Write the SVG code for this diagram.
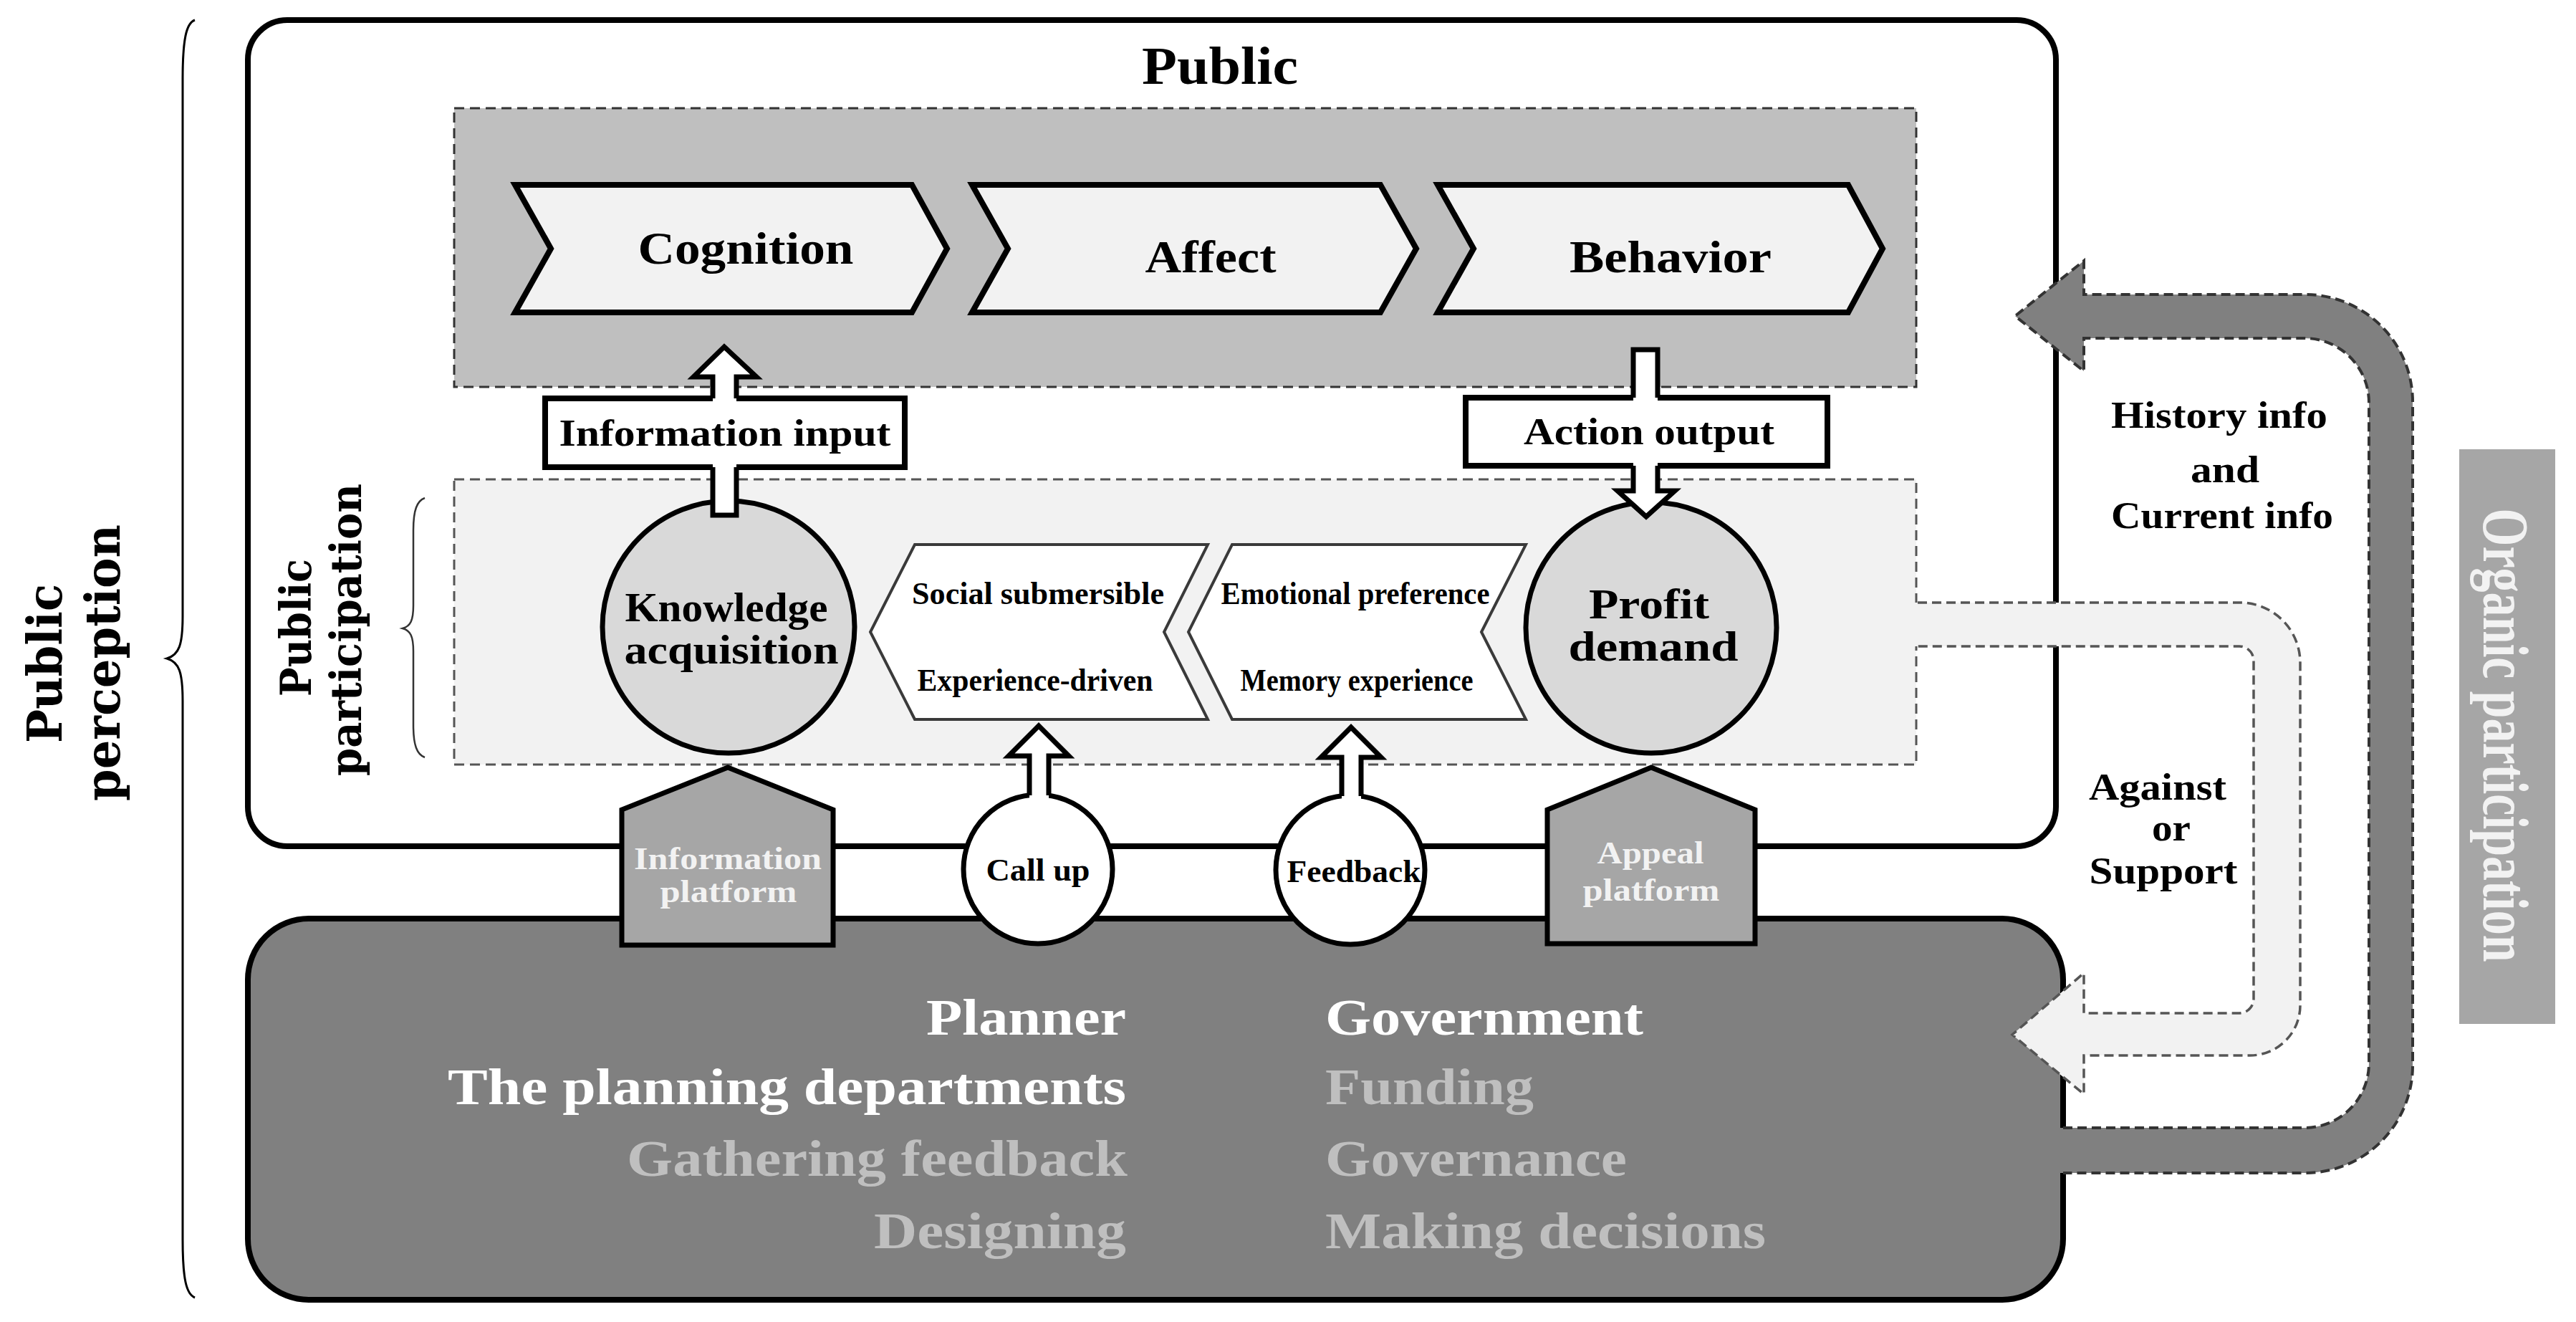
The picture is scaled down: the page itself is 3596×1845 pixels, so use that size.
<svg xmlns="http://www.w3.org/2000/svg" width="3596" height="1845" viewBox="0 0 3596 1845">
<defs>
<style>
.t{font-family:"Liberation Serif","DejaVu Serif",serif;font-weight:bold;fill:#000}
.r{font-family:"DejaVu Serif","Liberation Serif",serif;font-weight:bold;fill:#000}
.w{fill:#ffffff}
.g{fill:#bfbfbf}
.lt{fill:#f2f2f2}
.chev{fill:#f2f2f2;stroke:#000;stroke-width:8;stroke-linejoin:miter}
.hex{fill:#ffffff;stroke:#3a3a3a;stroke-width:4}
.circ{fill:#d9d9d9;stroke:#000;stroke-width:7}
.wcirc{fill:#ffffff;stroke:#000;stroke-width:7}
.plat{fill:#a6a6a6;stroke:#000;stroke-width:7}
.box{fill:#ffffff;stroke:#000;stroke-width:8}
.afill{fill:#ffffff;stroke:none}
.aline{fill:none;stroke:#000;stroke-width:7;stroke-linejoin:miter}
.brace{fill:none;stroke:#000;stroke-width:3}
</style>
</defs>
<rect x="0" y="0" width="3596" height="1845" fill="#ffffff"/>

<g id="brace-perception">
<path class="brace" d="M272,28 C260,32 255,55 255,110 L255,860 C255,900 250,914 233,919 C250,924 255,938 255,978 L255,1730 C255,1785 260,1806 272,1811"/>
<text class="r" font-size="68" textLength="222" lengthAdjust="spacingAndGlyphs" text-anchor="middle" transform="translate(86,926) rotate(-90)">Public</text>
<text class="r" font-size="68" textLength="386" lengthAdjust="spacingAndGlyphs" text-anchor="middle" transform="translate(167,925) rotate(-90)">perception</text>
</g>

<g id="public">
<rect x="346" y="28" width="2524" height="1153" rx="55" fill="#ffffff" stroke="#000" stroke-width="8"/>
<text class="t" x="1703" y="117" font-size="74" textLength="218" lengthAdjust="spacingAndGlyphs" text-anchor="middle">Public</text>
</g>

<g id="psychology">
<rect x="634" y="151" width="2041" height="389" fill="#bfbfbf" stroke="#333" stroke-width="3" stroke-dasharray="14 8"/>
</g>

<g id="cognition">
<polygon class="chev" points="719,258 1273,258 1322,347 1273,436 719,436 769,347"/>
<text class="t" x="1041" y="368" font-size="64" textLength="301" lengthAdjust="spacingAndGlyphs" text-anchor="middle">Cognition</text>
</g>
<g id="affect">
<polygon class="chev" points="1357,258 1927,258 1977,347 1927,436 1357,436 1407,347"/>
<text class="t" x="1690" y="380" font-size="64" textLength="183" lengthAdjust="spacingAndGlyphs" text-anchor="middle">Affect</text>
</g>
<g id="behavior">
<polygon class="chev" points="2007,258 2580,258 2628,347 2580,436 2007,436 2057,347"/>
<text class="t" x="2332" y="380" font-size="64" textLength="282" lengthAdjust="spacingAndGlyphs" text-anchor="middle">Behavior</text>
</g>

<g id="participation-area">
<rect x="634" y="669" width="2041" height="398" fill="#f2f2f2" stroke="#555" stroke-width="3" stroke-dasharray="14 8"/>
<path fill="none" stroke="#333" stroke-width="2.5" d="M593,695 C582,699 577,712 577,740 L577,845 C577,866 573,874 562,877 C573,880 577,888 577,909 L577,1012 C577,1040 582,1053 593,1057"/>
<text class="r" font-size="60" textLength="192" lengthAdjust="spacingAndGlyphs" text-anchor="middle" transform="translate(434,876) rotate(-90)">Public</text>
<text class="r" font-size="60" textLength="408" lengthAdjust="spacingAndGlyphs" text-anchor="middle" transform="translate(504,879) rotate(-90)">participation</text>
</g>

<g id="knowledge">
<circle class="circ" cx="1017" cy="875" r="176"/>
<text class="t" x="1014" y="867" font-size="56" textLength="283" lengthAdjust="spacingAndGlyphs" text-anchor="middle">Knowledge</text>
<text class="t" x="1021" y="926" font-size="56" textLength="299" lengthAdjust="spacingAndGlyphs" text-anchor="middle">acquisition</text>
</g>

<g id="social">
<polygon class="hex" points="1277,760 1686,760 1625,882 1686,1004 1277,1004 1215,882"/>
<text class="t" x="1449" y="843" font-size="44" textLength="352" lengthAdjust="spacingAndGlyphs" text-anchor="middle">Social submersible</text>
<text class="t" x="1445" y="964" font-size="44" textLength="329" lengthAdjust="spacingAndGlyphs" text-anchor="middle">Experience-driven</text>
</g>

<g id="emotional">
<polygon class="hex" points="1720,760 2130,760 2068,882 2130,1004 1720,1004 1659,882"/>
<text class="t" x="1892" y="843" font-size="44" textLength="375" lengthAdjust="spacingAndGlyphs" text-anchor="middle">Emotional preference</text>
<text class="t" x="1894" y="964" font-size="44" textLength="325" lengthAdjust="spacingAndGlyphs" text-anchor="middle">Memory experience</text>
</g>

<g id="profit">
<circle class="circ" cx="2305" cy="876" r="175"/>
<text class="t" x="2302" y="863" font-size="60" textLength="168" lengthAdjust="spacingAndGlyphs" text-anchor="middle">Profit</text>
<text class="t" x="2308" y="922" font-size="60" textLength="237" lengthAdjust="spacingAndGlyphs" text-anchor="middle">demand</text>
</g>

<g id="government-planner">
<rect x="346" y="1282" width="2534" height="532" rx="85" fill="#808080" stroke="#000" stroke-width="8"/>
<text class="t w" x="1572" y="1444" font-size="72" textLength="279" lengthAdjust="spacingAndGlyphs" text-anchor="end">Planner</text>
<text class="t w" x="1572" y="1541" font-size="72" textLength="947" lengthAdjust="spacingAndGlyphs" text-anchor="end">The planning departments</text>
<text class="t g" x="1574" y="1641" font-size="72" textLength="699" lengthAdjust="spacingAndGlyphs" text-anchor="end">Gathering feedback</text>
<text class="t g" x="1572" y="1742" font-size="72" textLength="352" lengthAdjust="spacingAndGlyphs" text-anchor="end">Designing</text>
<text class="t w" x="1850" y="1444" font-size="72" textLength="444" lengthAdjust="spacingAndGlyphs">Government</text>
<text class="t g" x="1850" y="1541" font-size="72" textLength="291" lengthAdjust="spacingAndGlyphs">Funding</text>
<text class="t g" x="1850" y="1641" font-size="72" textLength="421" lengthAdjust="spacingAndGlyphs">Governance</text>
<text class="t g" x="1850" y="1742" font-size="72" textLength="615" lengthAdjust="spacingAndGlyphs">Making decisions</text>
</g>

<g id="information-platform">
<polygon class="plat" points="1016,1071 1163,1130 1163,1319 868,1319 868,1130"/>
<text class="t lt" x="1016" y="1213" font-size="44" textLength="262" lengthAdjust="spacingAndGlyphs" text-anchor="middle">Information</text>
<text class="t lt" x="1017" y="1259" font-size="44" textLength="191" lengthAdjust="spacingAndGlyphs" text-anchor="middle">platform</text>
</g>

<g id="appeal-platform">
<polygon class="plat" points="2305,1071 2450,1130 2450,1317 2160,1317 2160,1130"/>
<text class="t lt" x="2304" y="1205" font-size="44" textLength="149" lengthAdjust="spacingAndGlyphs" text-anchor="middle">Appeal</text>
<text class="t lt" x="2305" y="1257" font-size="44" textLength="191" lengthAdjust="spacingAndGlyphs" text-anchor="middle">platform</text>
</g>

<g id="call-up">
<circle class="wcirc" cx="1449" cy="1213" r="104"/>
<text class="t" x="1449" y="1229" font-size="44" textLength="145" lengthAdjust="spacingAndGlyphs" text-anchor="middle">Call up</text>
</g>

<g id="feedback">
<circle class="wcirc" cx="1885" cy="1214" r="104"/>
<text class="t" x="1890" y="1231" font-size="44" textLength="187" lengthAdjust="spacingAndGlyphs" text-anchor="middle">Feedback</text>
</g>

<g id="information-input">
<rect class="box" x="761" y="556" width="502" height="96"/>
<text class="t" x="1012" y="622" font-size="52" textLength="463" lengthAdjust="spacingAndGlyphs" text-anchor="middle">Information input</text>
</g>

<g id="action-output">
<rect class="box" x="2046" y="555" width="505" height="95"/>
<text class="t" x="2302" y="620" font-size="52" textLength="350" lengthAdjust="spacingAndGlyphs" text-anchor="middle">Action output</text>
</g>

<g id="organic-participation">
<rect x="3433" y="627" width="134" height="802" fill="#a6a6a6"/>
<text class="t lt" font-size="90" textLength="633" lengthAdjust="spacingAndGlyphs" text-anchor="middle" transform="translate(3467,1026) rotate(90)">Organic participation</text>
</g>

<g id="connectors">
<!-- Information input arrow (up) -->
<polygon class="afill" points="1011,484 1056,526 1028,526 1028,560 995,560 995,526 968,526"/>
<path class="aline" d="M995,556 L995,526 L968,526 L1011,484 L1056,526 L1028,526 L1028,556"/>
<rect class="afill" x="995" y="648" width="33" height="71"/>
<path class="aline" d="M995,652 L995,719 L1028,719 L1028,652"/>

<!-- Action output arrow (down) -->
<rect class="afill" x="2280" y="488" width="34" height="71"/>
<path class="aline" d="M2280,555 L2280,488 L2314,488 L2314,555"/>
<polygon class="afill" points="2280,646 2314,646 2314,685 2338,685 2298,721 2258,685 2280,685"/>
<path class="aline" d="M2280,650 L2280,685 L2258,685 L2298,721 L2338,685 L2314,685 L2314,650"/>

<!-- Call up arrow -->
<polygon class="afill" points="1450,1013 1492,1055 1464,1055 1464,1118 1437,1118 1437,1055 1408,1055"/>
<path class="aline" d="M1437,1110 L1437,1055 L1408,1055 L1450,1013 L1492,1055 L1464,1055 L1464,1110"/>

<!-- Feedback arrow -->
<polygon class="afill" points="1886,1015 1928,1057 1900,1057 1900,1119 1873,1119 1873,1057 1844,1057"/>
<path class="aline" d="M1873,1111 L1873,1057 L1844,1057 L1886,1015 L1928,1057 L1900,1057 L1900,1111"/>

<!-- Against or Support arrow (light) -->
<path fill="#f2f2f2" stroke="none" d="M2670,841 L3127,841 A84,84 0 0 1 3211,925 L3211,1403 A70,70 0 0 1 3141,1473 L2909,1473 L2909,1527 L2809,1444 L2909,1358 L2909,1414 L3126,1414 A20,20 0 0 0 3146,1394 L3146,922 A20,20 0 0 0 3126,902 L2670,902 Z"/>
<path fill="none" stroke="#555" stroke-width="3.5" stroke-dasharray="13 7" d="M2677,841 L3127,841 A84,84 0 0 1 3211,925 L3211,1403 A70,70 0 0 1 3141,1473 L2909,1473 L2909,1527 L2809,1444 L2909,1358 L2909,1414 L3126,1414 A20,20 0 0 0 3146,1394 L3146,922 A20,20 0 0 0 3126,902 L2677,902"/>

<!-- Organic participation loop arrow (dark) -->
<path fill="#808080" stroke="none" d="M2813,441 L2909,364 L2909,411 L3218,411 A150,150 0 0 1 3368,561 L3368,1487 A150,150 0 0 1 3218,1637 L2872,1637 L2872,1574 L3217,1574 A90,90 0 0 0 3307,1484 L3307,562 A90,90 0 0 0 3217,472 L2909,472 L2909,518 Z"/>
<path fill="none" stroke="#333" stroke-width="4" stroke-dasharray="13 7" d="M2880,1574 L3217,1574 A90,90 0 0 0 3307,1484 L3307,562 A90,90 0 0 0 3217,472 L2909,472 L2909,518 L2813,441 L2909,364 L2909,411 L3218,411 A150,150 0 0 1 3368,561 L3368,1487 A150,150 0 0 1 3218,1637 L2880,1637"/>
</g>

<g id="loop-labels">
<text class="t" x="3098" y="597" font-size="52" textLength="302" lengthAdjust="spacingAndGlyphs" text-anchor="middle">History info</text>
<text class="t" x="3106" y="673" font-size="52" textLength="96" lengthAdjust="spacingAndGlyphs" text-anchor="middle">and</text>
<text class="t" x="3102" y="737" font-size="52" textLength="310" lengthAdjust="spacingAndGlyphs" text-anchor="middle">Current info</text>
<text class="t" x="3012" y="1116" font-size="52" textLength="192" lengthAdjust="spacingAndGlyphs" text-anchor="middle">Against</text>
<text class="t" x="3031" y="1173" font-size="52" textLength="54" lengthAdjust="spacingAndGlyphs" text-anchor="middle">or</text>
<text class="t" x="3020" y="1233" font-size="52" textLength="207" lengthAdjust="spacingAndGlyphs" text-anchor="middle">Support</text>
</g>
</svg>
